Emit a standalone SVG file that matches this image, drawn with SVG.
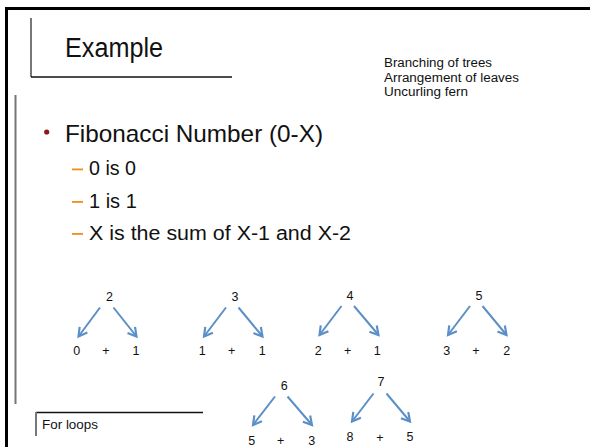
<svg xmlns="http://www.w3.org/2000/svg" width="590" height="447" viewBox="0 0 590 447">
<defs>
<marker id="ah" viewBox="0 0 10 10" refX="8" refY="5" markerWidth="6" markerHeight="6" orient="auto" markerUnits="strokeWidth">
<path d="M1,1 L8,5 L1,9" fill="none" stroke="#5b8fc8" stroke-width="1.8" stroke-linejoin="miter"/>
</marker>
<style>
.t{font-family:"Liberation Sans",Arial,sans-serif;fill:#111}
.n{font-family:"Liberation Sans",Arial,sans-serif;font-size:12.5px;fill:#111;text-anchor:middle}
.a{stroke:#5b8fc8;stroke-width:2;fill:none;marker-end:url(#ah)}
.g{stroke:#777;stroke-width:2;fill:none}
.k{stroke:#111;stroke-width:1.5;fill:none}
</style>
</defs>
<rect width="590" height="447" fill="#fff"/>
<g id="frame">
<line x1="6.5" y1="7" x2="6.5" y2="447" stroke="#000" stroke-width="3"/>
<line x1="5" y1="8.5" x2="590" y2="8.5" stroke="#000" stroke-width="3"/>
</g>
<g id="title">
<line class="g" x1="31" y1="18" x2="31" y2="77"/>
<line class="k" x1="31" y1="77" x2="232" y2="77"/>
<text class="t" x="65" y="57" font-size="27" textLength="98" lengthAdjust="spacingAndGlyphs">Example</text>
</g>
<g id="notes">
<text class="t" x="384" y="67" font-size="12.5" textLength="108" lengthAdjust="spacingAndGlyphs">Branching of trees</text>
<text class="t" x="384" y="81.5" font-size="12.5" textLength="135" lengthAdjust="spacingAndGlyphs">Arrangement of leaves</text>
<text class="t" x="384" y="96" font-size="12.5" textLength="84" lengthAdjust="spacingAndGlyphs">Uncurling fern</text>
</g>
<g id="body">
<line class="g" x1="15.5" y1="95" x2="15.5" y2="404"/>
<circle cx="46.7" cy="132" r="2.6" fill="#8b1a1a"/>
<text class="t" x="65" y="141.5" font-size="24" textLength="258" lengthAdjust="spacingAndGlyphs">Fibonacci Number (0-X)</text>
<g fill="#f08c1e">
<rect x="72" y="168.5" width="11" height="1.8"/>
<rect x="72" y="201" width="11" height="1.8"/>
<rect x="72" y="233" width="11" height="1.8"/>
</g>
<text class="t" x="89" y="174.5" font-size="20" textLength="47" lengthAdjust="spacingAndGlyphs">0 is 0</text>
<text class="t" x="89" y="207.5" font-size="20">1 is 1</text>
<text class="t" x="89" y="239.5" font-size="20" textLength="262" lengthAdjust="spacingAndGlyphs">X is the sum of X-1 and X-2</text>
</g>
<g id="forloops">
<line class="k" x1="36" y1="412.5" x2="203" y2="412.5" stroke-width="1.2"/>
<line class="g" x1="36" y1="412" x2="36" y2="436" stroke-width="1.5"/>
<text class="t" x="42" y="429" font-size="12.5" textLength="56" lengthAdjust="spacingAndGlyphs">For loops</text>
</g>
<g id="connectors">
<line class="a" x1="100" y1="307.5" x2="78.5" y2="336.5"/>
<line class="a" x1="113.5" y1="307.5" x2="136.5" y2="336.5"/>
<line class="a" x1="226" y1="307.5" x2="204" y2="336.5"/>
<line class="a" x1="238.5" y1="307.5" x2="262.5" y2="336.5"/>
<line class="a" x1="341.5" y1="306" x2="319.5" y2="335"/>
<line class="a" x1="354" y1="306" x2="378.5" y2="335"/>
<line class="a" x1="470" y1="306" x2="448" y2="335"/>
<line class="a" x1="482.5" y1="306" x2="506.5" y2="335"/>
<line class="a" x1="275" y1="396.5" x2="253" y2="425"/>
<line class="a" x1="287.5" y1="396.5" x2="312" y2="425"/>
<line class="a" x1="373.5" y1="393.5" x2="352" y2="421.5"/>
<line class="a" x1="386.5" y1="393.5" x2="410" y2="421.5"/>
</g>
<g id="tree2">
<text class="n" x="109.5" y="301">2</text>
<text class="n" x="76.7" y="355">0</text>
<text class="n" x="106" y="355">+</text>
<text class="n" x="136" y="355">1</text>
</g>
<g id="tree3">
<text class="n" x="235" y="301">3</text>
<text class="n" x="202.3" y="355">1</text>
<text class="n" x="231.7" y="355">+</text>
<text class="n" x="262.3" y="355">1</text>
</g>
<g id="tree4">
<text class="n" x="350" y="299.5">4</text>
<text class="n" x="318.3" y="355">2</text>
<text class="n" x="347.7" y="355">+</text>
<text class="n" x="377.3" y="355">1</text>
</g>
<g id="tree5">
<text class="n" x="479" y="299.5">5</text>
<text class="n" x="446.7" y="355">3</text>
<text class="n" x="476" y="355">+</text>
<text class="n" x="506.7" y="355">2</text>
</g>
<g id="tree6">
<text class="n" x="284.3" y="390">6</text>
<text class="n" x="251.7" y="444.5">5</text>
<text class="n" x="280.7" y="444.5">+</text>
<text class="n" x="311.7" y="444.5">3</text>
</g>
<g id="tree7">
<text class="n" x="381" y="386">7</text>
<text class="n" x="350" y="441">8</text>
<text class="n" x="380" y="442">+</text>
<text class="n" x="410" y="441">5</text>
</g>
</svg>
